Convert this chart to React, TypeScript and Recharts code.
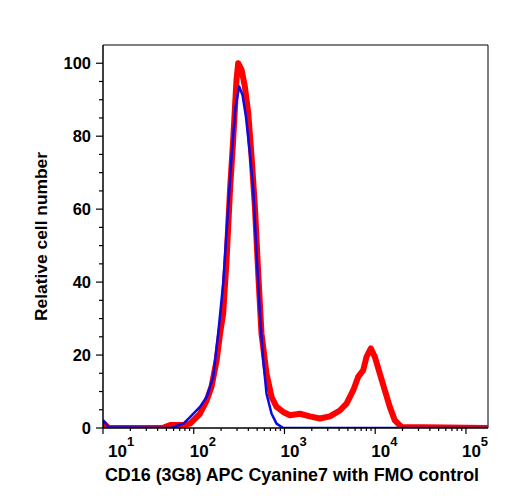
import { LineChart, Line, XAxis, YAxis, ReferenceLine } from "recharts";

const FONT = '"Liberation Sans", Arial, Helvetica, sans-serif';

// CD16 stained sample: fluorescence intensity and relative cell number
const stainedX = [
  10, 11.5, 45, 55, 75, 91, 117, 139, 157, 179, 195, 211, 230, 251, 272, 296,
  309, 337, 366, 399, 434, 472, 514, 558, 634, 721, 818, 968, 1148, 1479, 1905,
  2455, 3162, 4074, 4831, 5715, 6486, 7362, 8017, 8954, 9908, 11246, 12764,
  14488, 16444, 19454, 175000,
];
const stainedY = [
  1.5, 0, 0, 0.8, 0.8, 1.2, 3.9, 7.6, 11.3, 18.6, 25.9, 31.4, 46, 65.2, 79,
  95.4, 100, 98.2, 93.6, 86.3, 74.4, 60.7, 42.4, 25.9, 14.9, 8.5, 5.8, 4.4, 3.5,
  3.9, 3.2, 2.6, 3.2, 4.8, 6.7, 10.3, 14, 15.8, 19.5, 21.8, 19.5, 14.9, 10.3,
  5.8, 2.1, 0.3, 0,
];

// FMO control
const fmoX = [
  10, 11.5, 57, 65, 77, 91, 117, 139, 164, 186, 211, 240, 261, 289, 317, 345,
  376, 416, 453, 492, 536, 583, 634, 721, 818, 968, 175000,
];
const fmoY = [
  2.2, 0.2, 0, 0.6, 1.2, 3, 5.8, 8.5, 14, 25.9, 39.6, 60.7, 74.4, 88.1, 93.6,
  91.3, 85.4, 75.3, 65.2, 47.8, 31.4, 18.6, 9.4, 3.9, 1.2, 0, 0,
];

const X_MIN = 10;
const X_MAX = 175000;
const Y_MAX = 105;

const decades = [10, 100, 1000, 10000, 100000];
const xTicks: number[] = [];
decades.forEach((d) => {
  xTicks.push(d);
  if (d < 100000) for (let k = 2; k <= 9; k++) xTicks.push(k * d);
});

const yMajor = [0, 20, 40, 60, 80, 100];
const yTicks: number[] = [];
for (let v = 0; v <= 100; v += 5) yTicks.push(v);

const stained = stainedX.map((x, i) => ({ x, y: stainedY[i] }));
const fmo = fmoX.map((x, i) => ({ x, y: fmoY[i] }));

function LogTick(props: any) {
  const { x, y, payload } = props;
  const v = payload.value;
  const exp = Math.round(Math.log10(v));
  const major = decades.includes(v);
  // the first label is nudged inside the plot edge
  const lx = x - 4 + (exp === 1 ? 9 : 0);
  return (
    <g>
      <line x1={x} x2={x} y1={y} y2={y + (major ? 6 : 3)} stroke="#000" strokeWidth={1.2} />
      {major && (
        <text x={lx} y={y + 29} fontFamily={FONT} fontWeight="bold" fill="#000">
          <tspan fontSize={17}>10</tspan>
          <tspan fontSize={13} dy={-11}>
            {exp}
          </tspan>
        </text>
      )}
    </g>
  );
}

function CountTick(props: any) {
  const { x, y, payload } = props;
  const major = yMajor.includes(payload.value);
  return (
    <g>
      <line x1={x} x2={x - (major ? 7 : 4)} y1={y} y2={y} stroke="#000" strokeWidth={1.2} />
      {major && (
        <text
          x={x - 12}
          y={y + 6}
          textAnchor="end"
          fontFamily={FONT}
          fontWeight="bold"
          fontSize={16.5}
          fill="#000"
        >
          {payload.value}
        </text>
      )}
    </g>
  );
}

export default function App() {
  return (
    <div style={{ position: "absolute", left: 0, top: 0, width: 508, height: 500, background: "#fff" }}>
      <LineChart width={508} height={500} margin={{ top: 45, right: 20, left: 43, bottom: 32 }}>
        <XAxis
          type="number"
          dataKey="x"
          scale="log"
          domain={[X_MIN, X_MAX]}
          allowDataOverflow
          ticks={xTicks}
          interval={0}
          tick={<LogTick />}
          tickLine={false}
          tickSize={0}
          tickMargin={0}
          axisLine={{ stroke: "#000", strokeWidth: 1.5 }}
          height={40}
        />
        <YAxis
          type="number"
          domain={[0, Y_MAX]}
          allowDataOverflow
          ticks={yTicks}
          interval={0}
          tick={<CountTick />}
          tickLine={false}
          tickSize={0}
          tickMargin={0}
          axisLine={{ stroke: "#000", strokeWidth: 1.5 }}
          width={60}
        />
        <ReferenceLine y={Y_MAX} stroke="#000" strokeWidth={1} />
        <ReferenceLine x={X_MAX} stroke="#000" strokeWidth={1} />
        <Line
          data={stained}
          dataKey="y"
          type="linear"
          stroke="#ff0000"
          strokeWidth={6}
          strokeLinejoin="round"
          dot={false}
          isAnimationActive={false}
        />
        <Line
          data={fmo}
          dataKey="y"
          type="linear"
          stroke="#0a0ae6"
          strokeWidth={2.5}
          strokeLinejoin="round"
          dot={false}
          isAnimationActive={false}
        />
      </LineChart>
      <svg
        width={508}
        height={500}
        style={{ position: "absolute", left: 0, top: 0, pointerEvents: "none" }}
      >
        <text
          x={292}
          y={481}
          textAnchor="middle"
          fontFamily={FONT}
          fontWeight="bold"
          fontSize={17.9}
          fill="#000"
        >
          CD16 (3G8) APC Cyanine7 with FMO control
        </text>
        <text
          x={47}
          y={236.5}
          transform="rotate(-90 47 236.5)"
          textAnchor="middle"
          fontFamily={FONT}
          fontWeight="bold"
          fontSize={17.4}
          fill="#000"
        >
          Relative cell number
        </text>
      </svg>
    </div>
  );
}
